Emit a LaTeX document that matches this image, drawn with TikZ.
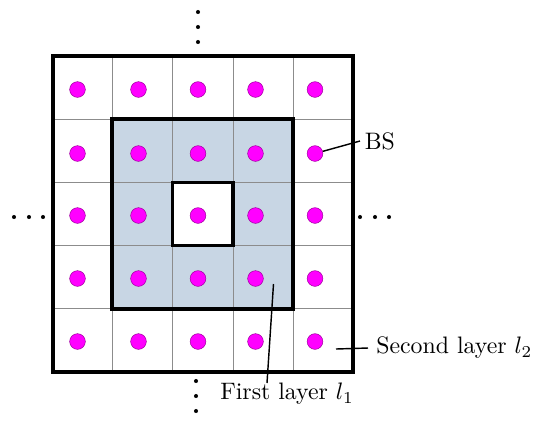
\documentclass[tikz,border=0pt]{standalone}
\begin{document}
\begin{tikzpicture}[x=0.42pt,y=-0.42pt,
  bsdot/.style={circle,fill={rgb,255:red,255;green,0;blue,255},draw={rgb,255:red,150;green,0;blue,150},line width=0.2pt,inner sep=0pt,minimum size=6.6pt},
  edot/.style={circle,fill=black,inner sep=0pt,minimum size=1.7pt},
  gridline/.style={draw=gray!90,line width=0.35pt},
  thickbox/.style={draw=black,line width=1.45pt},
  conn/.style={draw=black,line width=0.6pt},
  lbl/.style={inner sep=0pt}]
\useasboundingbox (0,0) rectangle (536,436);
% shaded first layer
\fill[fill={rgb,255:red,200;green,214;blue,228}] (112,119.2) rectangle (293,308.8);
\fill[white] (172.5,182.4) rectangle (233,245.6);
% grid
\foreach \x in {112,172.5,233,293} \draw[gridline] (\x,56) -- (\x,372);
\foreach \y in {119.2,182.4,245.6,308.8} \draw[gridline] (53,\y) -- (353,\y);
% thick boxes
\draw[thickbox] (53,56) rectangle (353,372);
\draw[thickbox] (112,119.2) rectangle (293,308.8);
\draw[thickbox] (172.5,182.4) rectangle (233,245.6);
% BS dots
\foreach \r/\y in {1/89.5,2/153.5,3/215.5,4/278.5,5/341.5}
  \foreach \c/\x in {1/77.5,2/138.5,3/198,4/255.5,5/315}
    \node[bsdot] (d\r\c) at (\x,\y) {};
% ellipsis dots
\foreach \y in {12,27,42} \node[edot] at (198,\y) {};
\foreach \y in {381,396,411} \node[edot] at (196,\y) {};
\foreach \x in {14,29,43} \node[edot] at (\x,217) {};
\foreach \x in {360,375,389} \node[edot] at (\x,217) {};
% labels
\node[lbl,anchor=west,outer sep=2pt] (bs) at (360,141) {BS};
\draw[conn] (d25) -- (bs.west);
\node[lbl,anchor=west,outer sep=3.5pt] (sl) at (368,348) {Second layer $l_2$};
\coordinate (slp) at (336,349);
\draw[conn] (slp) -- (sl.west);
\node[lbl] (fl) at (287,394) {First layer $l_1$};
\coordinate (flp) at (273.5,284);
\coordinate (fle) at (267,383);
\draw[conn] (flp) -- (fle);
\end{tikzpicture}
\end{document}
